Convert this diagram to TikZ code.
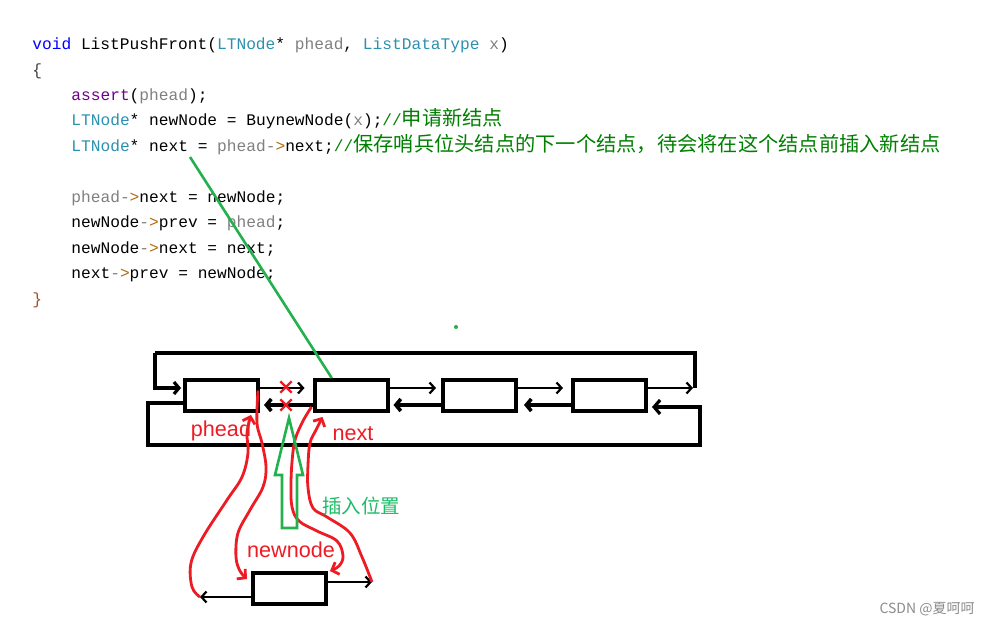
\documentclass[tikz,border=0pt]{standalone}
\usepackage{fontspec}
\usepackage{xcolor}
\setmainfont{Liberation Sans}
\newfontfamily\codefont{Liberation Mono}
\newfontfamily\cjkfont[Scale=1.25]{Noto Sans CJK SC}
\newfontfamily\cjklabel{Noto Sans CJK SC}
\definecolor{vskw}{HTML}{0000FF}
\definecolor{vstype}{HTML}{2B91AF}
\definecolor{vsparam}{HTML}{808080}
\definecolor{vsfunc}{HTML}{6F008A}
\definecolor{vscmt}{HTML}{008000}
\definecolor{vsop}{HTML}{B4690E}
\definecolor{vsbrace}{HTML}{A0522D}
\definecolor{paintred}{HTML}{ED1C24}
\definecolor{paintgreen}{HTML}{22B14C}
\usepackage{tikz}
\usetikzlibrary{
  arrows.meta,
  calc,
  shapes.misc,
}

% code colouring
\newcommand{\vkw}[1]{\textcolor{vskw}{#1}}
\newcommand{\vty}[1]{\textcolor{vstype}{#1}}
\newcommand{\vpa}[1]{\textcolor{vsparam}{#1}}
\newcommand{\vfn}[1]{\textcolor{vsfunc}{#1}}
\newcommand{\vop}{\textcolor{vsparam}{-}\textcolor{vsop}{>}}
\newcommand{\vcm}[1]{\textcolor{vscmt}{//{\cjkfont #1}}}

\begin{document}
\begin{tikzpicture}[
  x=0.5pt, y=-0.5pt,
  code/.style={
    anchor=base west,
    inner sep=0pt,
    font=\codefont\fontsize{8.1}{10}\selectfont,
  },
  listbox/.style={
    draw,
    line width=2pt,
    minimum width=36.5pt,
    minimum height=15.5pt,
    inner sep=0pt,
  },
  nextlink/.style={
    line width=1.1pt,
    -{Straight Barb[length=2.5pt, width=5.5pt]},
  },
  prevlink/.style={
    line width=1.8pt,
    -{Straight Barb[length=2.5pt, width=6pt]},
  },
  loopline/.style={
    line width=1.6pt,
  },
  pen/.style={
    draw=paintred,
    line width=1.4pt,
    -{Straight Barb[length=3pt, width=6.5pt]},
  },
  cut/.style={
    cross out,
    draw=paintred,
    line width=1.2pt,
    minimum size=4.5pt,
    inner sep=0pt,
  },
  lbl/.style={
    font=\fontsize{10.8}{12}\selectfont,
    text=paintred,
    inner sep=0pt,
    anchor=base,
  },
]

\useasboundingbox[fill=white] (0,0) rectangle (990,625);

% =============================================================================
% Source code
% =============================================================================
\node[code] (l1) at (32,50) {\vkw{void} ListPushFront(\vty{LTNode}* \vpa{phead}, \vty{ListDataType} \vpa{x})};
\node[code] (l2) at (32,75.5) {\textcolor{black!75}{\{}};
\node[code] (l3) at (71,101) {\vfn{assert}(\vpa{phead});};
\node[code] (l4) at (71,126) {\vty{LTNode}* newNode = BuynewNode(\vpa{x});\vcm{申请新结点}};
\node[code] (l5) at (71,152) {\vty{LTNode}* next = \vpa{phead}\vop next;\vcm{保存哨兵位头结点的下一个结点，待会将在这个结点前插入新结点}};
\node[code] (l6) at (71,203) {\vpa{phead}\vop next = newNode;};
\node[code] (l7) at (71,228) {newNode\vop prev = \vpa{phead};};
\node[code] (l8) at (71,254) {newNode\vop next = next;};
\node[code] (l9) at (71,279) {next\vop prev = newNode;};
\node[code] (l10) at (32,305) {\textcolor{vsbrace}{\}}};

% =============================================================================
% The list: sentinel + three nodes, circular
% =============================================================================
\node[listbox] (b1) at (221.5,395.5) {};
\node[listbox] (b2) at (351,395.5) {};
\node[listbox] (b3) at (479.5,395.5) {};
\node[listbox] (b4) at (609.5,395.5) {};

\coordinate (toprow) at (0,388);
\coordinate (botrow) at (0,405);

\draw[nextlink, shorten >=4pt] (b1.east |- toprow) -- (b2.west |- toprow);
\draw[nextlink, shorten >=2.5pt] (b2.east |- toprow) -- (b3.west |- toprow);
\draw[nextlink, shorten >=4pt] (b3.east |- toprow) -- (b4.west |- toprow);

\draw[prevlink, shorten >=2pt] (b2.west |- botrow) -- (b1.east |- botrow);
\draw[prevlink, shorten >=2pt] (b3.west |- botrow) -- (b2.east |- botrow);
\draw[prevlink, shorten >=3pt] (b4.west |- botrow) -- (b3.east |- botrow);

% wrap-around: tail->next = head (over the top)
\coordinate (topright) at (695,388);
\coordinate (topleft) at (155,353);
\draw[nextlink, shorten >=1pt] (b4.east |- toprow) -- (topright);
\draw[loopline] (topright) |- (topleft);
\draw[loopline, -{Straight Barb[length=2.5pt, width=6pt]}, shorten >=1pt]
  (topleft) |- (b1.west |- toprow);

% wrap-around: head->prev = tail (underneath)
\coordinate (leftrow) at (0,403);
\coordinate (lowleft) at (148,445);
\coordinate (rightrow) at (700,407);
\draw[loopline, -{Straight Barb[length=3pt, width=7pt]}, shorten >=2pt]
  (b1.west |- leftrow) -| (lowleft) -| (rightrow) -- (b4.east |- rightrow);

% cut links
\node[cut] (cut1) at (286,387) {};
\node[cut] (cut2) at (286,405) {};

\node[lbl] (pheadlbl) at (221,437) {phead};
\node[lbl] (nextlbl) at (353,440) {next};

% =============================================================================
% New node and its re-linking
% =============================================================================
\node[listbox] (nb) at (289.5,588) {};
\node[lbl] (newlbl) at (291,557) {newnode};

\coordinate (nbnext) at (372,582);
\coordinate (nbprev) at (200,597);
\draw[nextlink] (nb.east |- nbnext) -- (nbnext);
\draw[nextlink] (nb.west |- nbprev) -- (nbprev);

\coordinate (pheadout) at ($(b1.east)+(-2,-5)$);
\coordinate (pheadin) at ($(b1.south east)+(-9,2)$);
\coordinate (nextout) at ($(b2.south west)+(-1,-6)$);
\coordinate (nextin) at ($(b2.south west)+(10,4)$);

% newNode->prev = phead
\draw[pen] plot[smooth, tension=0.6] coordinates {
  (nbprev) (192,587) (191,563) (203,537) (227,500) (242,477)
  (248,453) (247,433) (pheadin)};
% phead->next = newNode
\draw[pen] plot[smooth, tension=0.6] coordinates {
  (pheadout) (257,423) (262,443) (266,467) (263,487) (250,510)
  (238,533) (236,557) (240,571) (247,579)};
% next->prev = newNode
\draw[pen] plot[smooth, tension=0.6] coordinates {
  (nextout) (303,421) (295,440) (292,462) (291,485) (292,507)
  (299,521) (317,531) (337,541) (343,556) (339,566) (330,571)};
% newNode->next = next
\draw[pen] plot[smooth, tension=0.6] coordinates {
  (nbnext) (362,557) (350,533) (327,517) (313,508) (308,488)
  (308,465) (310,443) (316,430) (nextin)};

% insert position
\coordinate (insertat) at (289,418);
\draw[paintgreen, line width=1.3pt, line join=miter]
  (insertat) -- (303,475) -- (297,475) -- (297,528) -- (282,528)
  -- (282,475) -- (275,475) -- cycle;
\node[anchor=base, inner sep=0pt, text=paintgreen!85!cyan,
      font=\cjklabel\fontsize{9.75}{11}\selectfont] (insertlbl) at (361,513) {插入位置};

% code variable -> list node
\coordinate (nextvar) at (190,157);
\draw[paintgreen, line width=1.3pt]
  (nextvar) -- ($(b2.north west)!0.25!(b2.north east)$);
\fill[paintgreen] (456,327) circle (1pt);

% watermark
\node[anchor=east, inner sep=0pt, text=black!45,
      font=\cjklabel\fontsize{7}{8}\selectfont] (mark) at (975,609) {CSDN @夏呵呵};

\end{tikzpicture}
\end{document}
